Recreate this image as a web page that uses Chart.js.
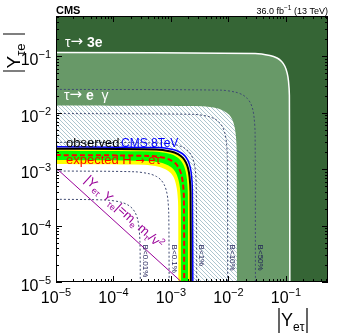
<!DOCTYPE html>
<html><head><meta charset="utf-8">
<script src="https://cdn.jsdelivr.net/npm/chart.js@4.4.0/dist/chart.umd.min.js"></script>
<style>html,body{margin:0;padding:0;background:#fff;}canvas{display:block;}</style>
</head><body>
<canvas id="c" width="349" height="335"></canvas>
<script>
// ---- data: boundary curves as [|Y_et|, |Y_te|] points ----
const tau3e = [[1e-5,0.117],[0.0293,0.113],[0.0527,0.104],[0.0702,0.0936],[0.0842,0.0812],[0.0959,0.0669],[0.105,0.051],[0.111,0.0365],[0.115,0.0202],[0.117,1e-5]];
const tauEGamma = [[1e-5,0.0134],[0.00353,0.013],[0.00635,0.012],[0.00846,0.0107],[0.0102,0.0093],[0.0116,0.00766],[0.0127,0.00584],[0.0134,0.00418],[0.0139,0.00232],[0.0141,1e-5]];
const cms8TeV = [[1e-5,0.0025],[0.0006,0.00242],[0.00108,0.00223],[0.00144,0.002],[0.00173,0.00174],[0.00197,0.00143],[0.00216,0.00109],[0.00228,0.00078],[0.00236,0.000433],[0.0024,1e-5]];
const observed = [[1e-5,0.00231],[0.000555,0.00224],[0.000999,0.00206],[0.00133,0.00185],[0.0016,0.0016],[0.00182,0.00132],[0.002,0.00101],[0.00211,0.000721],[0.00219,0.0004],[0.00222,1e-5]];
const expected = [[1e-5,0.00178],[0.000425,0.00172],[0.000765,0.00159],[0.00102,0.00142],[0.00122,0.00124],[0.00139,0.00102],[0.00153,0.000776],[0.00162,0.000555],[0.00168,0.000308],[0.0017,1e-5]];
const band2Up = [[1e-5,0.0023],[0.00055,0.00223],[0.00099,0.00205],[0.00132,0.00184],[0.00158,0.0016],[0.0018,0.00132],[0.00198,0.001],[0.00209,0.00072],[0.00217,0.0004],[0.0022,1e-5]];
const band1Up = [[1e-5,0.00212],[0.0005,0.00205],[0.0009,0.00189],[0.0012,0.0017],[0.00144,0.00147],[0.00164,0.00121],[0.0018,0.000924],[0.0019,0.000661],[0.00197,0.000367],[0.002,1e-5]];
const band1Down = [[1e-5,0.00145],[0.000378,0.0014],[0.00068,0.0013],[0.000906,0.00116],[0.00109,0.00101],[0.00124,0.000829],[0.00136,0.000632],[0.00144,0.000452],[0.00149,0.000251],[0.00151,1e-5]];
const band2Down = [[1e-5,0.00124],[0.00034,0.0012],[0.000612,0.00111],[0.000816,0.000992],[0.000979,0.000861],[0.00112,0.000709],[0.00122,0.000541],[0.00129,0.000387],[0.00134,0.000215],[0.00136,1e-5]];
const bLine001 = [[1e-5,2.93e-4],[7.33e-5,2.84e-4],[1.32e-4,2.62e-4],[1.76e-4,2.34e-4],[2.11e-4,2.03e-4],[2.4e-4,1.68e-4],[2.64e-4,1.28e-4],[2.78e-4,9.14e-5],[2.89e-4,5.07e-5],[2.93e-4,1e-5]];
const bLine01 = [[1e-5,9.3e-4],[2.33e-4,9.0e-4],[4.19e-4,8.3e-4],[5.58e-4,7.44e-4],[6.7e-4,6.45e-4],[7.63e-4,5.32e-4],[8.37e-4,4.05e-4],[8.84e-4,2.9e-4],[9.16e-4,1.61e-4],[9.3e-4,1e-5]];
const bLine1 = [[1e-5,3.0e-3],[7.0e-4,2.9e-3],[1.26e-3,2.68e-3],[1.68e-3,2.4e-3],[2.02e-3,2.08e-3],[2.3e-3,1.72e-3],[2.52e-3,1.31e-3],[2.66e-3,9.36e-4],[2.76e-3,5.19e-4],[2.8e-3,1e-5]];
const bLine10 = [[1e-5,9.7e-3],[2.43e-3,9.39e-3],[4.37e-3,8.66e-3],[5.82e-3,7.76e-3],[6.98e-3,6.73e-3],[7.95e-3,5.55e-3],[8.73e-3,4.23e-3],[9.22e-3,3.03e-3],[9.56e-3,1.68e-3],[9.7e-3,1e-5]];
const bLine50 = [[1e-5,0.026],[7.38e-3,0.0252],[0.0133,0.0232],[0.0177,0.0208],[0.0212,0.018],[0.0242,0.0149],[0.0266,0.0113],[0.028,0.0081],[0.0291,0.0045],[0.0295,1e-5]];
const yukawaRelation = [[1e-5,1.05e-3],[1.53e-3,1e-5]];
const bLabels = ['B<0.01%','B<0.1%','B<1%','B<10%','B<50%'];
const bLabelX = [2.93e-4, 9.3e-4, 2.8e-3, 9.7e-3, 0.0295];
const bLabelTopY = 4.6e-5;
const xTickValues = [1e-5,1e-4,1e-3,1e-2,1e-1];
const xTickExps = ['\u22125','\u22124','\u22123','\u22122','\u22121'];
const yTickValues = [1e-5,1e-4,1e-3,1e-2,1e-1];
const yTickExps = ['\u22125','\u22124','\u22123','\u22122','\u22121'];
const minorMantissas = [2,3,4,5,6,7,8,9];
const X_MIN = 1e-5, X_MAX = 0.54, Y_MIN = 1e-5, Y_MAX = 0.52;

const DARK = '#356535', LIGHT = '#689968', DOT = '#3f4a72', FONT = '"Liberation Sans", Arial, sans-serif';
const SYM = '"DejaVu Sans", sans-serif';

const cv = document.getElementById('c');
const ctx0 = cv.getContext('2d');
const pc = document.createElement('canvas'); pc.width = 4; pc.height = 4;
const pg = pc.getContext('2d');
pg.fillStyle = '#fff'; pg.fillRect(0,0,4,4);
pg.strokeStyle = '#a3c0c9'; pg.lineWidth = 0.9;
pg.beginPath(); pg.moveTo(-1,-1); pg.lineTo(5,5); pg.moveTo(-1,3); pg.lineTo(1,5); pg.moveTo(3,-1); pg.lineTo(5,1); pg.stroke();
const hatch = ctx0.createPattern(pc, 'repeat');

const pts = a => a.map(p => ({x: p[0], y: p[1]}));
const NONE = 'rgba(0,0,0,0)';
const layers = [
  {data: pts(tau3e), fill: 'start', backgroundColor: LIGHT, borderColor: '#ffffff', borderWidth: 1.5},
  {data: pts(tauEGamma), fill: 'start', backgroundColor: hatch, borderColor: NONE, borderWidth: 1},
  {data: pts(cms8TeV), fill: 'start', backgroundColor: '#ffffff', borderColor: NONE, borderWidth: 1},
  {data: pts(band2Up), fill: 'start', backgroundColor: '#ffff00', borderColor: NONE, borderWidth: 1},
  {data: pts(band1Up), fill: 'start', backgroundColor: '#00ff00', borderColor: NONE, borderWidth: 1},
  {data: pts(band1Down), fill: 'start', backgroundColor: '#ffff00', borderColor: NONE, borderWidth: 1},
  {data: pts(band2Down), fill: 'start', backgroundColor: '#ffffff', borderColor: NONE, borderWidth: 1},
  {data: pts(bLine001), fill: false, borderColor: DOT, borderWidth: 1, borderDash: [2,2]},
  {data: pts(bLine01), fill: false, borderColor: DOT, borderWidth: 1, borderDash: [2,2]},
  {data: pts(bLine1), fill: false, borderColor: DOT, borderWidth: 1, borderDash: [2,2]},
  {data: pts(bLine10), fill: false, borderColor: DOT, borderWidth: 1, borderDash: [2,2]},
  {data: pts(bLine50), fill: false, borderColor: DOT, borderWidth: 1, borderDash: [2,2]},
  {data: pts(cms8TeV), fill: false, borderColor: '#0000ff', borderWidth: 1.5},
  {data: pts(observed), fill: false, borderColor: '#000000', borderWidth: 2},
  {data: pts(expected), fill: false, borderColor: '#ff0000', borderWidth: 2, borderDash: [5,3]},
  {data: pts(yukawaRelation), fill: false, borderColor: '#990099', borderWidth: 1, tension: 0}
];
layers.forEach((d, i) => { d.order = layers.length - i; d.pointRadius = 0; });

function fontOf(p) { return (p.b ? 'bold ' : '') + p.s + 'px ' + (p.f || FONT); }
function richWidth(ctx, parts) {
  let w = 0;
  for (const p of parts) { ctx.font = fontOf(p); w += ctx.measureText(p.t).width; }
  return w;
}
function drawRich(ctx, parts, x, y, color) {
  for (const p of parts) {
    ctx.font = fontOf(p);
    ctx.fillStyle = p.c || color;
    ctx.fillText(p.t, x, y + (p.dy || 0));
    x += ctx.measureText(p.t).width;
  }
  return x;
}

const decor = {
  id: 'decor',
  beforeDatasetsDraw(chart) {
    const {ctx, chartArea: a} = chart;
    ctx.save(); ctx.fillStyle = DARK; ctx.fillRect(a.left, a.top, a.right - a.left, a.bottom - a.top); ctx.restore();
  },
  afterDatasetsDraw(chart) {
    const {ctx, chartArea: a, scales: {x, y}} = chart;
    ctx.save();
    ctx.textBaseline = 'alphabetic';
    // region labels
    drawRich(ctx, [{t: '\u03c4', s: 14}, {t: '\u2192', s: 15, f: SYM, dy: -1}, {t: ' 3e', s: 14, b: true}], a.left + 9, a.top + 31, '#ffffff');
    drawRich(ctx, [{t: '\u03c4', s: 14}, {t: '\u2192', s: 15, f: SYM, dy: -1}, {t: ' ', s: 14}, {t: 'e', s: 14, b: true}, {t: '  \u03b3', s: 14}], a.left + 8, a.top + 84, '#ffffff');
    // legend-like texts
    let xe = drawRich(ctx, [{t: 'observed', s: 13}], a.left + 10, a.top + 130.5, '#000000');
    drawRich(ctx, [{t: 'CMS 8TeV', s: 12}], xe + 1.5, a.top + 130.5, '#0000ff');
    drawRich(ctx, [{t: 'expected H ', s: 13}, {t: '\u2192', s: 11, f: SYM}, {t: ' e\u03c4', s: 13}], a.left + 10, a.top + 148, '#ff0000');
    // B labels
    ctx.fillStyle = '#1c1c55'; ctx.font = '8px ' + FONT; ctx.textBaseline = 'middle'; ctx.textAlign = 'left';
    bLabels.forEach((t, i) => {
      const px = x.getPixelForValue(bLabelX[i]) + 5;
      const py = y.getPixelForValue(bLabelTopY);
      ctx.save(); ctx.translate(px, py); ctx.rotate(Math.PI / 2); ctx.fillText(t, 0, 0); ctx.restore();
    });
    // purple relation text along the line
    const x0 = x.getPixelForValue(yukawaRelation[0][0]), y0 = y.getPixelForValue(yukawaRelation[0][1]);
    const x1 = x.getPixelForValue(yukawaRelation[1][0]), y1 = y.getPixelForValue(yukawaRelation[1][1]);
    const ang = Math.atan2(y1 - y0, x1 - x0);
    const parts = [{t: '|Y', s: 13}, {t: 'e\u03c4', s: 9, dy: 3}, {t: ' Y', s: 13}, {t: '\u03c4e', s: 9, dy: 3},
      {t: '|=m', s: 13}, {t: 'e', s: 9, dy: 3}, {t: ' m', s: 13}, {t: '\u03c4', s: 9, dy: 3}, {t: '/v', s: 13}, {t: '2', s: 9, dy: -5}];
    ctx.textBaseline = 'alphabetic';
    const W = richWidth(ctx, parts);
    ctx.save(); ctx.translate(x0, y0); ctx.rotate(ang);
    drawRich(ctx, parts, 80 - W / 2, -9, '#990099');
    ctx.restore();
    // frame and ticks
    ctx.strokeStyle = '#000'; ctx.lineWidth = 1;
    ctx.strokeRect(Math.round(a.left) + 0.5, Math.round(a.top) + 0.5, Math.round(a.right - a.left) - 1, Math.round(a.bottom - a.top) - 1);
    const L = 6, l = 3;
    ctx.beginPath();
    const xt = [], yt = [];
    xTickValues.forEach(v => { xt.push([v, L]); minorMantissas.forEach(m => { if (m * v <= X_MAX) xt.push([m * v, l]); }); });
    yTickValues.forEach(v => { yt.push([v, L]); minorMantissas.forEach(m => { if (m * v <= Y_MAX) yt.push([m * v, l]); }); });
    xt.forEach(([v, len]) => {
      const px = Math.round(x.getPixelForValue(v)) + 0.5;
      ctx.moveTo(px, a.bottom); ctx.lineTo(px, a.bottom - len);
      ctx.moveTo(px, a.top); ctx.lineTo(px, a.top + len);
    });
    yt.forEach(([v, len]) => {
      const py = Math.round(y.getPixelForValue(v)) + 0.5;
      ctx.moveTo(a.left, py); ctx.lineTo(a.left + len, py);
      ctx.moveTo(a.right, py); ctx.lineTo(a.right - len, py);
    });
    ctx.stroke();
    ctx.restore();
  },
  afterDraw(chart) {
    const {ctx, chartArea: a, scales: {x, y}} = chart;
    ctx.save();
    ctx.textBaseline = 'alphabetic'; ctx.textAlign = 'left';
    // tick labels
    xTickValues.forEach((v, i) => {
      const parts = [{t: '10', s: 16}, {t: xTickExps[i], s: 11, dy: -7}];
      const w = richWidth(ctx, parts);
      drawRich(ctx, parts, x.getPixelForValue(v) - w / 2, a.bottom + 20.5, '#000');
    });
    yTickValues.forEach((v, i) => {
      const parts = [{t: '10', s: 16}, {t: yTickExps[i], s: 11, dy: -7}];
      const w = richWidth(ctx, parts);
      drawRich(ctx, parts, a.left - 5 - w, y.getPixelForValue(v) + 9, '#000');
    });
    // x title
    ctx.strokeStyle = '#000'; ctx.lineWidth = 1.2;
    ctx.beginPath(); ctx.moveTo(279, 308); ctx.lineTo(279, 333); ctx.moveTo(307, 308); ctx.lineTo(307, 333); ctx.stroke();
    drawRich(ctx, [{t: 'Y', s: 18}, {t: 'e\u03c4', s: 12, dy: 5}], 281, 325.5, '#000');
    // y title (rotated)
    ctx.save(); ctx.rotate(-Math.PI / 2);
    ctx.beginPath(); ctx.moveTo(-71, 3); ctx.lineTo(-71, 25); ctx.moveTo(-34, 3); ctx.lineTo(-34, 25); ctx.stroke();
    drawRich(ctx, [{t: 'Y', s: 19}, {t: '\u03c4e', s: 13, dy: 5}], -68.5, 20, '#000');
    ctx.restore();
    // header
    drawRich(ctx, [{t: 'CMS', s: 11, b: true}], a.left, 13.5, '#000');
    const hp = [{t: '36.0 fb', s: 9}, {t: '\u22121', s: 6.5, dy: -3.5}, {t: ' (13 TeV)', s: 9}];
    drawRich(ctx, hp, a.right - richWidth(ctx, hp), 13.5, '#000');
    ctx.restore();
  }
};

new Chart(cv, {
  type: 'line',
  data: {datasets: layers},
  options: {
    responsive: false, animation: false, devicePixelRatio: 1, events: [],
    layout: {padding: {left: 56, right: 21, top: 16, bottom: 53}},
    elements: {point: {radius: 0}, line: {tension: 0.3}},
    scales: {
      x: {type: 'logarithmic', min: X_MIN, max: X_MAX, display: false},
      y: {type: 'logarithmic', min: Y_MIN, max: Y_MAX, display: false}
    },
    plugins: {legend: {display: false}, tooltip: {enabled: false}}
  },
  plugins: [decor]
});
</script></body></html>
